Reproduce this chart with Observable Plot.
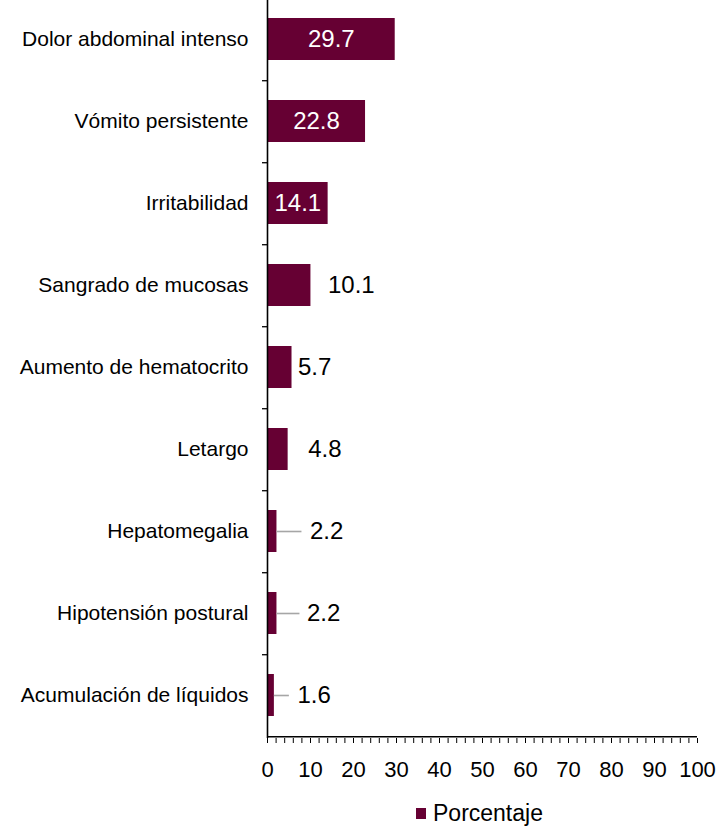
<!DOCTYPE html>
<html><head><meta charset="utf-8">
<script src="https://cdn.jsdelivr.net/npm/d3@7"></script>
<script src="https://cdn.jsdelivr.net/npm/@observablehq/plot@0.6"></script>
<style>
body{margin:0;background:#fff;font-family:"Liberation Sans",Arial,Helvetica,sans-serif}
#legend{margin-top:5px;margin-left:416px;display:flex;align-items:center;height:26px;font-size:23px;color:#000}
#legend .sw{width:10px;height:11px;background:#660033;margin-right:7px}
</style>
</head><body>
<div id="chart"></div>
<div id="legend"><span class="sw"></span><span id="legend-text"></span></div>
<script>
const categories = [
  "Dolor abdominal intenso",
  "Vómito persistente",
  "Irritabilidad",
  "Sangrado de mucosas",
  "Aumento de hematocrito",
  "Letargo",
  "Hepatomegalia",
  "Hipotensión postural",
  "Acumulación de líquidos"
];
const values = [29.7, 22.8, 14.1, 10.1, 5.7, 4.8, 2.2, 2.2, 1.6];
const seriesName = "Porcentaje";
const xTickLabels = [0, 10, 20, 30, 40, 50, 60, 70, 80, 90, 100];

const data = categories.map((c, i) => ({category: c, value: values[i]}));

// layout / style
const W = 718, H = 795, ML = 267, MR = 21, AXIS_Y = 738, TOP = -4;
const color = "#660033";
const pxPerUnit = (W - ML - MR) / 100;
const step = (AXIS_Y - TOP) / categories.length;
const outsideGap = {
  "Sangrado de mucosas": 17, "Aumento de hematocrito": 6, "Letargo": 20,
  "Hepatomegalia": 33, "Hipotensión postural": 30, "Acumulación de líquidos": 23
};
const leaderPx = {"Hepatomegalia": 25, "Hipotensión postural": 23, "Acumulación de líquidos": 15};

const inside = data.filter(d => d.value >= 14);
const outside = data.filter(d => d.value < 14);
const leaders = data.filter(d => leaderPx[d.category] !== undefined);

const minorTicks = d3.range(0, 101, 2);
const font = "Liberation Sans, Arial, Helvetica, sans-serif";

const chart = Plot.plot({
  width: W, height: H,
  marginLeft: ML, marginRight: MR, marginTop: 0, marginBottom: H - AXIS_Y,
  style: {fontFamily: font, fontSize: "21px", color: "#000", background: "#fff"},
  x: {domain: [0, 100]},
  y: {domain: categories, range: [TOP, AXIS_Y], padding: 0},
  marks: [
    Plot.barX(data, {x: "value", y: "category", fill: color, insetTop: 20, insetBottom: 20}),
    Plot.ruleX([0], {stroke: "#000", strokeWidth: 1.6}),
    Plot.ruleY([categories[categories.length - 1]], {x1: 0, x2: 100, dy: step / 2, stroke: "#000", strokeWidth: 1.6}),
    Plot.ruleY(categories.slice(0, -1), {x1: -5 / pxPerUnit, x2: 0, dy: step / 2, stroke: "#000", strokeWidth: 1.3}),
    Plot.axisX({ticks: minorTicks, tickSize: 5, tickPadding: 18, fontSize: 22, stroke: "#000", label: null,
      tickFormat: d => xTickLabels.includes(d) ? String(d) : ""}),
    Plot.axisY({tickSize: 0, tickPadding: 19, fontSize: 21, label: null}),
    Plot.ruleY(leaders, {y: "category", x1: d => d.value, x2: d => d.value + leaderPx[d.category] / pxPerUnit,
      stroke: "#a6a6a6", strokeWidth: 1.6}),
    Plot.text(inside, {x: d => d.value / 2, y: "category", text: d => d.value.toFixed(1),
      fill: "#fff", fontSize: 24}),
    Plot.text(outside, {x: d => d.value + outsideGap[d.category] / pxPerUnit, y: "category",
      text: d => d.value.toFixed(1), fill: "#000", fontSize: 24, textAnchor: "start"})
  ]
});
document.getElementById("chart").appendChild(chart);
document.getElementById("legend-text").textContent = seriesName;
</script>
</body></html>
